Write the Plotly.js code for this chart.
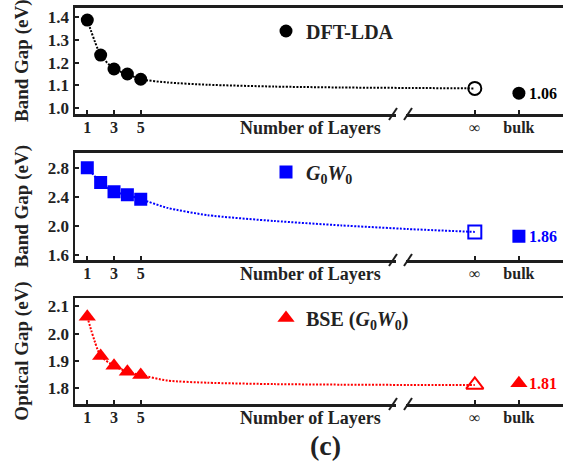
<!DOCTYPE html>
<html>
<head>
<meta charset="utf-8">
<script src="https://cdn.plot.ly/plotly-3.0.1.min.js"></script>
<style>html,body{margin:0;padding:0;background:#fff;overflow:hidden}#chart{width:563px;height:466px}</style>
</head>
<body>
<div id="chart"></div>
<script>
// ---- data ----
var layers = [1, 2, 3, 4, 5];
var xInf = 30;
var xBulk = 33.3;
var xTickVals = [1, 3, 5, 30, 33.3];
var xTickText = ['1', '3', '5', '<span style="font-weight:normal">∞</span>', 'bulk'];

var ldaLayers = [1.386, 1.233, 1.172, 1.150, 1.127];
var ldaInf = 1.087;
var ldaBulk = 1.066;
var ldaBulkLabel = '1.06';

var gwLayers = [2.80, 2.60, 2.47, 2.43, 2.37];
var gwInf = 1.92;
var gwBulk = 1.86;
var gwBulkLabel = '1.86';

var bseLayers = [2.062, 1.918, 1.882, 1.860, 1.848];
var bseInf = 1.812;
var bseBulk = 1.818;
var bseBulkLabel = '1.81';

// extrapolation curves (from 5 layers to infinity)
var fitX = [5, 7, 10, 15, 20, 25, 30];
var ldaFit = [1.127, 1.113, 1.103, 1.095, 1.091, 1.089, 1.087];
var gwFit = [2.37, 2.25, 2.15, 2.07, 2.01, 1.96, 1.92];
var bseFit = [1.848, 1.828, 1.820, 1.815, 1.813, 1.812, 1.812];

var names = ['DFT-LDA', '<i>G</i><sub>0</sub><i>W</i><sub>0</sub>', 'BSE (<i>G</i><sub>0</sub><i>W</i><sub>0</sub>)'];

// ---- styling / layout ----
var W = 563, H = 466, L = 75;
function px(xp){ return (xp - L) / (W - L); }
function py(yp){ return 1 - yp / H; }
var serif = "'Liberation Serif', 'Times New Roman', Times, serif";
var axisCol = '#1e1e1e';

var series = [
  {ys: ldaLayers, inf: ldaInf, bulk: ldaBulk, fit: ldaFit, label: ldaBulkLabel, color: '#000000', sym: 'circle', size: 13},
  {ys: gwLayers, inf: gwInf, bulk: gwBulk, fit: gwFit, label: gwBulkLabel, color: '#0000ff', sym: 'square', size: 13},
  {ys: bseLayers, inf: bseInf, bulk: bseBulk, fit: bseFit, label: bseBulkLabel, color: '#ff0000', sym: 'triangle-up', size: 15}
];
var panels = [
  {top: 7.5, bot: 114, range: [0.975, 1.441], tick0: 1.0, dtick: 0.1, title: 'Band Gap (eV)', legY: 31},
  {top: 152.5, bot: 260, range: [1.535, 3.01], tick0: 1.6, dtick: 0.4, title: 'Band Gap (eV)', legY: 172},
  {top: 298, bot: 404, range: [1.742, 2.131], tick0: 1.8, dtick: 0.1, title: 'Optical Gap (eV)', legY: 318}
];

var data = [];
var layout = {
  width: W, height: H,
  margin: {l: L, r: 0, t: 0, b: 0},
  paper_bgcolor: '#ffffff', plot_bgcolor: '#ffffff',
  font: {family: serif, color: '#222'},
  showlegend: true,
  annotations: [], shapes: []
};

series.forEach(function(s, i){
  var k = i === 0 ? '' : String(i + 1);
  var xa = 'x' + k, ya = 'y' + k;
  var p = panels[i];
  data.push({
    x: layers.concat(fitX.slice(1)), y: s.ys.concat(s.fit.slice(1)),
    xaxis: xa, yaxis: ya, mode: 'lines', showlegend: false, hoverinfo: 'skip',
    line: {color: s.color, width: 2, dash: '2px,1.5px', shape: 'spline', smoothing: 0.6}
  });
  data.push({
    x: layers, y: s.ys, xaxis: xa, yaxis: ya, mode: 'markers', name: names[i],
    legend: 'legend' + (i === 0 ? '' : (i + 1)),
    marker: {symbol: s.sym, size: s.size, color: s.color}
  });
  data.push({
    x: [xInf], y: [s.inf], xaxis: xa, yaxis: ya, mode: 'markers', showlegend: false,
    marker: {symbol: s.sym + '-open', size: s.size, color: s.color, line: {width: 2, color: s.color}}
  });
  data.push({
    x: [xBulk], y: [s.bulk], xaxis: xa, yaxis: ya, mode: 'markers', showlegend: false,
    marker: {symbol: s.sym, size: s.size, color: s.color}
  });

  layout['xaxis' + k] = {
    domain: [0, 1], anchor: ya, range: [0.08, 36.6],
    tickmode: 'array', tickvals: xTickVals, ticktext: xTickText,
    ticks: 'inside', ticklen: 4, tickwidth: 2, tickcolor: axisCol,
    ticklabelstandoff: -3,
    showline: true, linecolor: axisCol, linewidth: 2.5, mirror: true,
    showgrid: false, zeroline: false,
    tickfont: {family: serif, size: 16, weight: 'bold', color: '#222'}
  };
  layout['yaxis' + k] = {
    domain: [py(p.bot), py(p.top)], anchor: xa, range: p.range,
    tick0: p.tick0, dtick: p.dtick, tickformat: '.1f',
    ticks: 'inside', ticklen: 4, tickwidth: 2, tickcolor: axisCol,
    showline: true, linecolor: axisCol, linewidth: 2.5,
    showgrid: false, zeroline: false,
    tickfont: {family: serif, size: 17, weight: 'bold', color: '#222'},
    title: {text: p.title, standoff: 14, font: {family: serif, size: 19, weight: 'bold', color: '#222'}}
  };
  layout['legend' + (i === 0 ? '' : (i + 1))] = {
    x: px(266), y: py(p.legY), xanchor: 'left', yanchor: 'middle',
    bgcolor: 'rgba(0,0,0,0)', borderwidth: 0,
    font: {family: serif, size: 20, weight: 'bold', color: '#222'}
  };
  layout.annotations.push({
    xref: 'paper', yref: 'paper', x: px(310), y: py(p.bot + 14), xanchor: 'center', yanchor: 'middle',
    text: 'Number of Layers', showarrow: false,
    font: {family: serif, size: 18, weight: 'bold', color: '#222'}
  });
  layout.annotations.push({
    xref: xa, yref: ya, x: xBulk, y: s.bulk, xanchor: 'left', yanchor: 'middle', xshift: 8,
    text: s.label, showarrow: false,
    font: {family: serif, size: 16, weight: 'bold', color: s.color}
  });
  var ay = p.bot;
  layout.shapes.push({type: 'rect', xref: 'paper', yref: 'paper', x0: px(396), x1: px(406), y0: py(ay + 3), y1: py(ay - 3), fillcolor: '#ffffff', line: {width: 0}, layer: 'above'});
  layout.shapes.push({type: 'line', xref: 'paper', yref: 'paper', x0: px(389), y0: py(ay + 6), x1: px(397), y1: py(ay - 6), line: {color: axisCol, width: 2}, layer: 'above'});
  layout.shapes.push({type: 'line', xref: 'paper', yref: 'paper', x0: px(404), y0: py(ay + 6), x1: px(412), y1: py(ay - 6), line: {color: axisCol, width: 2}, layer: 'above'});
});

layout.annotations.push({
  xref: 'paper', yref: 'paper', x: px(325), y: py(445), xanchor: 'center', yanchor: 'middle',
  text: '(c)', showarrow: false, font: {family: serif, size: 28, weight: 'bold', color: '#222'}
});

Plotly.newPlot('chart', data, layout, {displayModeBar: false, staticPlot: true});
</script>
</body>
</html>
